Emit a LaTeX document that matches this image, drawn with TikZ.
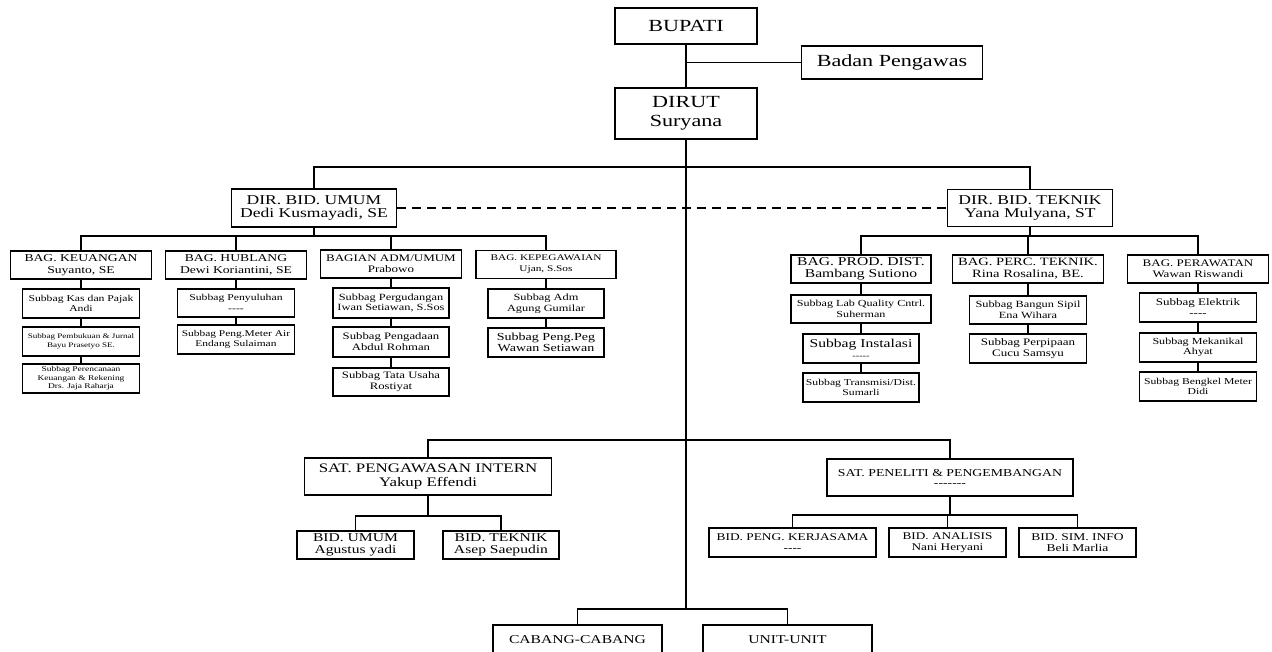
\documentclass[tikz,border=0pt]{standalone}
\usepackage{fontspec}
\setmainfont{Liberation Serif}[FakeStretch=1.3]

\begin{document}
\begin{tikzpicture}[x=1pt,y=-1pt,
  box/.style={draw,line width=1.4pt,align=center,inner sep=0pt},
  fs/.style 2 args={font=\fontsize{#1}{#2}\selectfont},
  wire/.style={line width=1.3pt}]
  \useasboundingbox (0,0) rectangle (1272,652);
  \clip (0,0) rectangle (1272,652);

  \node[box,fs={17}{19},minimum width=142,minimum height=36] (bupati) at (686,26) {BUPATI};
  \node[box,fs={17}{19},minimum width=181,minimum height=33] (pengawas) at (892,62.5) {Badan Pengawas};
  \node[box,fs={17}{19},minimum width=142,minimum height=51] (dirut) at (686,113.5) {DIRUT\\Suryana};
  \node[box,fs={13.5}{13.5},minimum width=165,minimum height=38] (dirumum) at (314,208) {DIR. BID. UMUM\\Dedi Kusmayadi, SE};
  \node[box,fs={13.5}{13.5},minimum width=165,minimum height=37] (dirteknik) at (1030,208) {DIR. BID. TEKNIK\\Yana Mulyana, ST};

  \node[box,fs={10.5}{12},minimum width=141,minimum height=28] (keuangan) at (81,265) {BAG. KEUANGAN\\Suyanto, SE};
  \node[box,fs={10.5}{12},minimum width=141,minimum height=28] (hublang) at (236,265) {BAG. HUBLANG\\Dewi Koriantini, SE};
  \node[box,fs={10}{11},minimum width=141,minimum height=28] (admumum) at (391,264) {BAGIAN ADM/UMUM\\Prabowo};
  \node[box,fs={8.7}{11},minimum width=140,minimum height=28] (kepeg) at (546,264.5) {BAG. KEPEGAWAIAN\\Ujan, S.Sos};

  \node[box,fs={9}{10.5},minimum width=117,minimum height=29] (kas) at (81,303.5) {Subbag Kas dan Pajak\\Andi};
  \node[box,fs={7}{8.5},minimum width=117,minimum height=29] (pembukuan) at (81,341.5) {Subbag Pembukuan \& Jurnal\\Bayu Prasetyo SE.};
  \node[box,fs={7.3}{8.3},minimum width=117,minimum height=29] (perencanaan) at (81,378.5) {Subbag Perencanaan\\Keuangan \& Rekening\\Drs. Jaja Raharja};
  \node[box,fs={9}{10.5},minimum width=117,minimum height=28] (penyuluhan) at (236,303) {Subbag Penyuluhan\\-{}-{}-{}-};
  \node[box,fs={8.8}{10},minimum width=117,minimum height=29] (pengmeter) at (236,339.5) {Subbag Peng.Meter Air\\Endang Sulaiman};
  \node[box,fs={9.5}{10.5},minimum width=116,minimum height=30] (pergudangan) at (391,303) {Subbag Pergudangan\\Iwan Setiawan, S.Sos};
  \node[box,fs={9.8}{11},minimum width=116,minimum height=30] (pengadaan) at (391,342) {Subbag Pengadaan\\Abdul Rohman};
  \node[box,fs={9.8}{11},minimum width=116,minimum height=28] (tatausaha) at (391,382) {Subbag Tata Usaha\\Rostiyat};
  \node[box,fs={9.5}{10.5},minimum width=116,minimum height=29] (adm) at (546,303.5) {Subbag Adm\\Agung Gumilar};
  \node[box,fs={10.8}{11},minimum width=116,minimum height=29] (pengpeg) at (546,342.5) {Subbag Peng.Peg\\Wawan Setiawan};

  \node[box,fs={12}{12.5},minimum width=140,minimum height=28] (prod) at (861,269) {BAG. PROD. DIST.\\Bambang Sutiono};
  \node[box,fs={11.2}{12},minimum width=151,minimum height=28] (perc) at (1028,269) {BAG. PERC. TEKNIK.\\Rina Rosalina, BE.};
  \node[box,fs={10}{11.5},minimum width=141,minimum height=28] (perawatan) at (1198,269) {BAG. PERAWATAN\\Wawan Riswandi};
  \node[box,fs={9.3}{10.5},minimum width=140,minimum height=28] (labq) at (861,309) {Subbag Lab Quality Cntrl.\\Suherman};
  \node[box,fs={12}{11},minimum width=116,minimum height=29] (instalasi) at (861,348.5) {Subbag Instalasi\\{\fontsize{8}{8}\selectfont -{}-{}-{}-{}-}};
  \node[box,fs={9}{10.5},minimum width=116,minimum height=29] (transmisi) at (861,387.5) {Subbag Transmisi/Dist.\\Sumarli};
  \node[box,fs={9.5}{10.5},minimum width=117,minimum height=28] (bangun) at (1028,310) {Subbag Bangun Sipil\\Ena Wihara};
  \node[box,fs={10}{11},minimum width=117,minimum height=29] (perpipaan) at (1028,348.5) {Subbag Perpipaan\\Cucu Samsyu};
  \node[box,fs={10}{11},minimum width=117,minimum height=29] (elektrik) at (1198,307.5) {Subbag Elektrik\\-{}-{}-{}-};
  \node[box,fs={9.3}{10.5},minimum width=117,minimum height=29] (mekanikal) at (1198,347.5) {Subbag Mekanikal\\Ahyat};
  \node[box,fs={9}{10.5},minimum width=117,minimum height=29] (bengkel) at (1198,386.5) {Subbag Bengkel Meter\\Didi};

  \node[box,fs={13}{14},minimum width=247,minimum height=37] (spi) at (428,476.5) {SAT. PENGAWASAN INTERN\\Yakup Effendi};
  \node[box,fs={12}{12},minimum width=117,minimum height=28] (bidumum) at (355.5,545) {BID. UMUM\\Agustus yadi};
  \node[box,fs={12}{12},minimum width=116,minimum height=28] (bidteknik) at (501,545) {BID. TEKNIK\\Asep Saepudin};
  \node[box,fs={10.6}{10},minimum width=246,minimum height=37] (litbang) at (950,477.5) {SAT. PENELITI \& PENGEMBANGAN\\-{}-{}-{}-{}-{}-{}-};
  \node[box,fs={10.3}{11},minimum width=167,minimum height=29] (kerjasama) at (792.5,542.5) {BID. PENG. KERJASAMA\\-{}-{}-{}-};
  \node[box,fs={10.2}{11},minimum width=117,minimum height=29] (analisis) at (947.5,542.5) {BID. ANALISIS\\Nani Heryani};
  \node[box,fs={10.4}{11},minimum width=117,minimum height=29] (siminfo) at (1077.5,542.5) {BID. SIM. INFO\\Beli Marlia};
  \node[box,fs={12}{12},minimum width=169,minimum height=30] (cabang) at (577.5,640) {CABANG-CABANG};
  \node[box,fs={12}{12},minimum width=169,minimum height=30] (unit) at (787.5,640) {UNIT-UNIT};

  \coordinate (tapBP) at (686,62.5);
  \coordinate (busD) at (686,167);
  \coordinate (busB) at (686,609);
  \coordinate (busL) at (314,236);
  \coordinate (busR) at (1030,236);
  \coordinate (busM) at (686,440);
  \coordinate (busS) at (428,516);
  \coordinate (busP) at (950,515);

  \draw[wire] (bupati) -- (dirut);
  \draw[wire] (tapBP) -- (pengawas);
  \draw[wire] (dirut) -- (busB);
  \draw[wire] (dirumum.north) |- (busD);
  \draw[wire] (dirteknik.north) |- (busD);
  \draw[wire,dash pattern=on 9pt off 6pt] (dirumum) -- (dirteknik);

  \draw[wire] (dirumum) -- (busL);
  \foreach \n in {keuangan,hublang,admumum,kepeg}
    \draw[wire] (\n.north) |- (busL);
  \draw[wire] (dirteknik) -- (busR);
  \foreach \n in {prod,perc,perawatan}
    \draw[wire] (\n.north) |- (busR);

  \draw[wire] (keuangan) -- (kas) -- (pembukuan) -- (perencanaan);
  \draw[wire] (hublang) -- (penyuluhan) -- (pengmeter);
  \draw[wire] (admumum) -- (pergudangan) -- (pengadaan) -- (tatausaha);
  \draw[wire] (kepeg) -- (adm) -- (pengpeg);
  \draw[wire] (prod) -- (labq) -- (instalasi) -- (transmisi);
  \draw[wire] (perc) -- (bangun) -- (perpipaan);
  \draw[wire] (perawatan) -- (elektrik) -- (mekanikal) -- (bengkel);

  \draw[wire] (spi.north) |- (busM);
  \draw[wire] (litbang.north) |- (busM);
  \draw[wire] (spi) -- (busS);
  \foreach \n in {bidumum,bidteknik}
    \draw[wire] (\n.north) |- (busS);
  \draw[wire] (litbang) -- (busP);
  \foreach \n in {kerjasama,analisis,siminfo}
    \draw[wire] (\n.north) |- (busP);
  \foreach \n in {cabang,unit}
    \draw[wire] (\n.north) |- (busB);
\end{tikzpicture}
\end{document}
